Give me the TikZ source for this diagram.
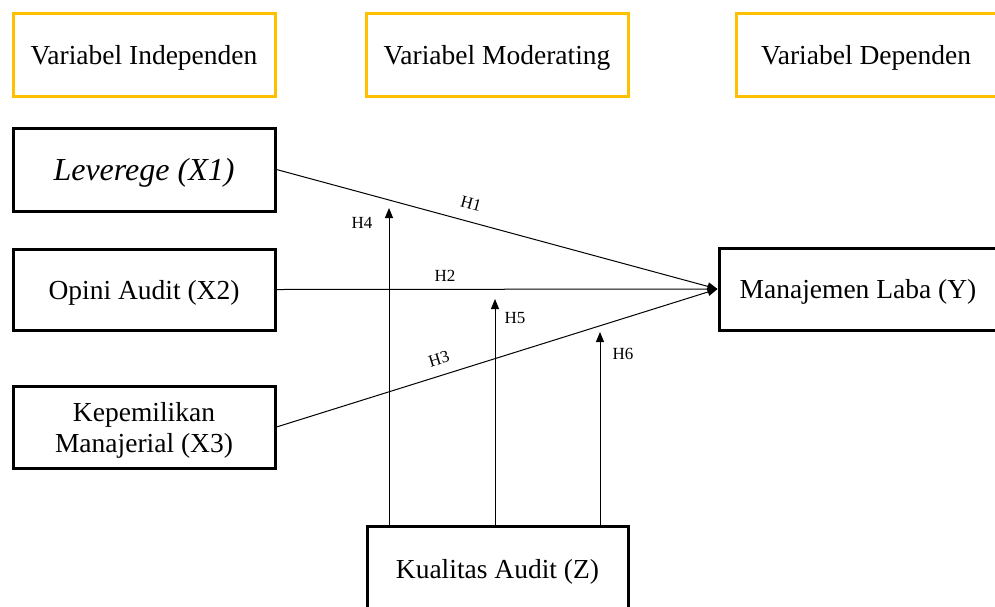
\documentclass[tikz,border=0pt]{standalone}
\usepackage{fontspec}
\setmainfont{Liberation Serif}
\usetikzlibrary{arrows.meta}
\definecolor{hdr}{HTML}{FFC000}
\begin{document}
\begin{tikzpicture}[x=1pt,y=-1pt,
  hdrbox/.style={draw=hdr,line width=3pt,minimum width=262pt,minimum height=83pt,inner sep=0pt,text depth=0pt,font=\fontsize{27.5}{31}\selectfont},
  varbox/.style={draw=black,line width=3pt,minimum width=262pt,minimum height=82pt,inner sep=0pt,text depth=0pt,align=center,font=\fontsize{27.5}{31}\selectfont},
  link/.style={line width=1pt,-{Triangle[length=10pt,width=8pt]}},
  hlab/.style={font=\fontsize{17}{20}\selectfont,inner sep=1pt}]
\useasboundingbox (0,0) rectangle (995,606);
\fill[white] (0,0) rectangle (995,606);
% header boxes
\node[hdrbox] (hind) at (144,54.5) {Variabel Independen};
\node[hdrbox] (hmod) at (497,54.5) {Variabel Moderating};
\node[hdrbox,minimum width=260pt] (hdep) at (866,54.5) {Variabel Dependen};
% variable boxes
\node[varbox,minimum height=83pt,font=\fontsize{32}{36}\selectfont\itshape] (x1) at (144,169.5) {Leverege (X1)};
\node[varbox,minimum height=81pt] (x2) at (144,289.5) {Opini Audit (X2)};
\node[varbox] (x3) at (144,427) {Kepemilikan\\Manajerial (X3)};
\node[varbox,minimum width=278pt] (y) at (858,289) {Manajemen Laba (Y)};
\node[varbox,minimum width=261pt,minimum height=90pt] (z) at (497.5,571) {\raisebox{4pt}{Kualitas Audit (Z)}};
% connectors
\draw[link] (x1.east) -- (y.west);
\draw[link] (x2.east) -- (y.west);
\draw[link] (x3.east) -- (y.west);
\coordinate (t4) at (389,208);
\coordinate (t5) at (495,299);
\coordinate (t6) at (600,332);
\draw[link] (z.north -| t4) -- (t4);
\draw[link] (z.north -| t5) -- (t5);
\draw[link] (z.north -| t6) -- (t6);
% labels
\node[hlab,rotate=-15] (h1) at (471,204) {H1};
\node[hlab] (h2) at (445,276) {H2};
\node[hlab,rotate=17] (h3) at (439,359) {H3};
\node[hlab] (h4) at (362,223) {H4};
\node[hlab] (h5) at (515,318) {H5};
\node[hlab] (h6) at (623,354) {H6};
\end{tikzpicture}
\end{document}
